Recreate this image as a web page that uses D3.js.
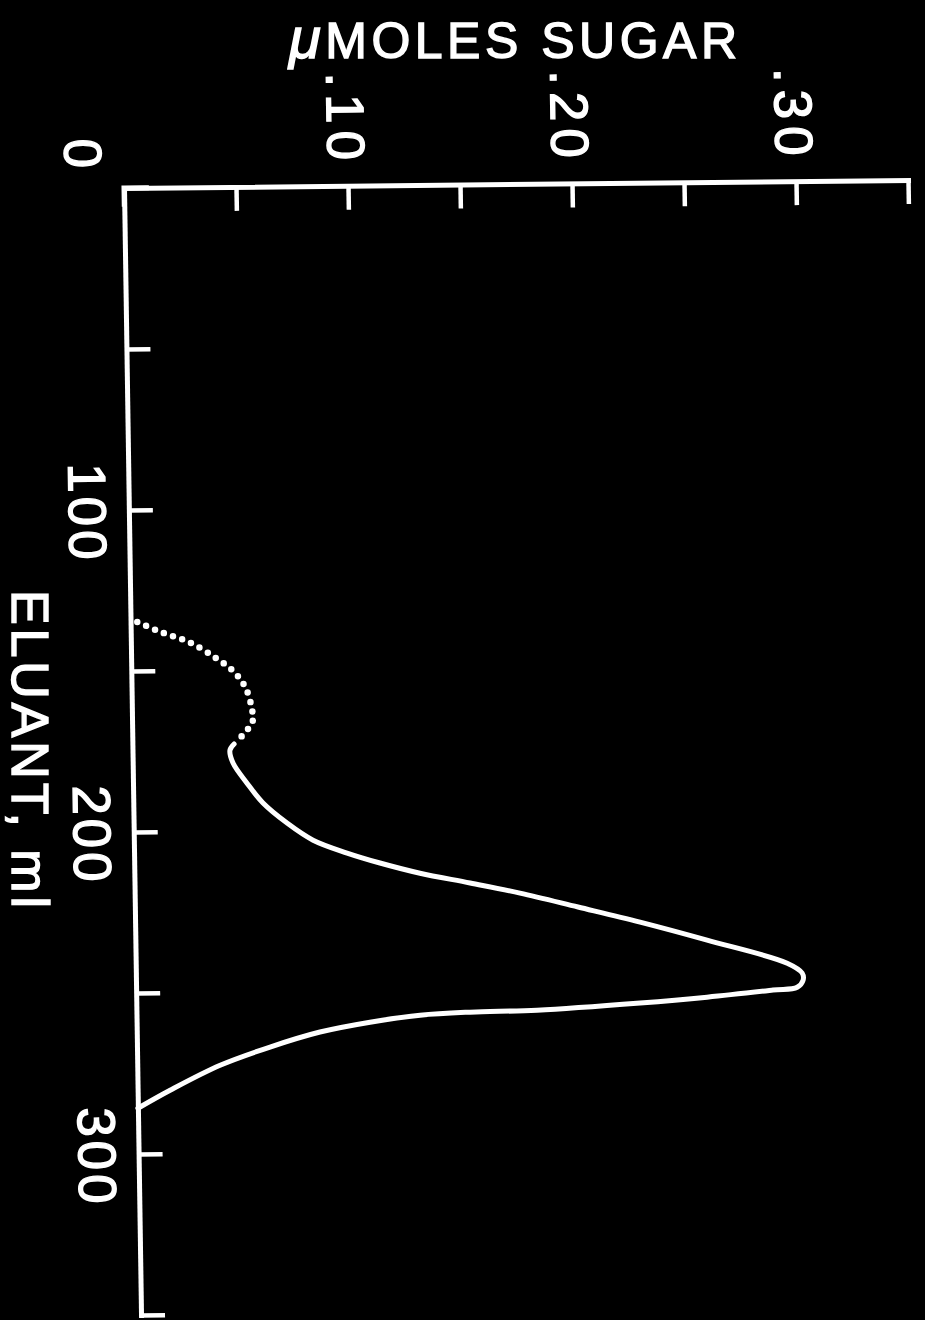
<!DOCTYPE html>
<html>
<head>
<meta charset="utf-8">
<script src="https://cdn.jsdelivr.net/npm/d3@7"></script>
<style>
  html, body { margin: 0; padding: 0; background: #000; }
  text { font-family: "Liberation Sans", Arial, sans-serif; fill: #fff; stroke: #fff; stroke-width: 1.4px; }
</style>
</head>
<body>
<svg id="chart" width="925" height="1320"></svg>
<script>
// eluate volume (ml) on the long axis, sugar (umoles) across
const sugarTicks = [0.05, 0.10, 0.15, 0.20, 0.25, 0.30, 0.35];
const sugarLabels = [".10", ".20", ".30"];
const sugarLabelValues = [0.10, 0.20, 0.30];
const eluantTicks = [50, 100, 150, 200, 250, 300, 350];
const eluantLabels = ["100", "200", "300"];
const eluantLabelValues = [100, 200, 300];

// dotted part of the curve (leading edge)
const dottedEluant = [134.8, 138.0, 141.2, 146.3, 150.7, 155.7, 162.2, 165.6, 168.4, 171.2];
const dottedSugar = [0.003, 0.0135, 0.026, 0.038, 0.046, 0.051, 0.0536, 0.054, 0.0517, 0.048];

// solid part of the curve
const solidEluant = [173.0, 174.9, 178.9, 185.2, 191.4, 197.7, 203.1, 207.2, 210.4, 213.7, 216.9,
  220.2, 224.7, 229.6, 235.4, 242.8, 245.9, 248.1, 250.3, 251.1, 253.1, 254.7, 256.6, 257.0,
  257.8, 259.8, 262.7, 267.2, 272.7, 280.3, 285.8];
const solidSugar = [0.0454, 0.0435, 0.0448, 0.0509, 0.0579, 0.0685, 0.0800, 0.0951, 0.1097, 0.1275,
  0.1498, 0.1720, 0.1978, 0.2254, 0.2552, 0.2908, 0.2974, 0.2978, 0.2951, 0.2843, 0.2548, 0.2249,
  0.1788, 0.1489, 0.1266, 0.1042, 0.0818, 0.0594, 0.0370, 0.0145, 0.0];

const svg = d3.select("#chart");
svg.append("rect").attr("width", 925).attr("height", 1320).attr("fill", "#000");

// hand drawn frame is slightly skewed
const plot = svg.append("g").attr("transform", "matrix(1,-0.0102,0.0151,1,124,188)");

const x = d3.scaleLinear().domain([0, 0.35]).range([0, 784]);
const y = d3.scaleLinear().domain([0, 350]).range([0, 1127]);

const topAxis = plot.append("g")
  .call(d3.axisBottom(x).tickValues(sugarTicks).tickSize(24).tickSizeOuter(0).tickFormat(""));
const leftAxis = plot.append("g")
  .call(d3.axisRight(y).tickValues(eluantTicks).tickSize(24).tickSizeOuter(0).tickFormat(""));

[topAxis, leftAxis].forEach(a => {
  a.select(".domain").attr("stroke", "#fff").attr("stroke-width", 5).attr("stroke-linecap", "square");
  a.selectAll(".tick line").attr("stroke", "#fff").attr("stroke-width", 4.5);
});
// join the two axis lines at the corner
plot.append("path")
  .attr("d", `M0,${y(0)}H${x(0.01)}M${x(0)},0V${y(5)}`)
  .attr("stroke", "#fff").attr("stroke-width", 5).attr("stroke-linecap", "square");

// tick labels, turned a quarter clockwise
plot.selectAll(".slabel")
  .data(sugarLabelValues)
  .enter().append("text")
  .attr("class", "slabel")
  .attr("transform", d => `translate(${x(d) - 20},-66) rotate(90)`)
  .attr("text-anchor", "middle")
  .attr("font-size", 53)
  .attr("letter-spacing", 7)
  .text((d, i) => sugarLabels[i]);

plot.selectAll(".elabel")
  .data(eluantLabelValues)
  .enter().append("text")
  .attr("class", "elabel")
  .attr("transform", d => `translate(-60,${y(d) + 3}) rotate(90)`)
  .attr("text-anchor", "middle")
  .attr("font-size", 53)
  .attr("letter-spacing", 4)
  .text((d, i) => eluantLabels[i]);

plot.append("text")
  .attr("transform", "translate(-59,-35) rotate(90)")
  .attr("text-anchor", "middle")
  .attr("font-size", 53)
  .text("0");

// curve
const line = d3.line()
  .x(d => x(d[1]))
  .y(d => y(d[0]))
  .curve(d3.curveCatmullRom.alpha(0.5));

plot.append("path")
  .attr("d", line(d3.zip(dottedEluant, dottedSugar)))
  .attr("fill", "none")
  .attr("stroke", "#fff")
  .attr("stroke-width", 6.5)
  .attr("stroke-linecap", "round")
  .attr("stroke-dasharray", "0 9.6");

plot.append("path")
  .attr("d", line(d3.zip(solidEluant, solidSugar)))
  .attr("fill", "none")
  .attr("stroke", "#fff")
  .attr("stroke-width", 5)
  .attr("stroke-linecap", "round")
  .attr("stroke-linejoin", "round");

// axis titles
const title = svg.append("text")
  .attr("x", 289).attr("y", 58)
  .attr("font-size", 50)
  .attr("textLength", 448)
  .attr("lengthAdjust", "spacing");
title.append("tspan").attr("font-style", "italic").attr("font-size", 58).text("μ");
title.append("tspan").text("MOLES SUGAR");

svg.append("text")
  .attr("transform", "translate(12,749) rotate(90)")
  .attr("text-anchor", "middle")
  .attr("font-size", 52)
  .attr("textLength", 318)
  .attr("lengthAdjust", "spacing")
  .text("ELUANT, ml");
</script>
</body>
</html>
